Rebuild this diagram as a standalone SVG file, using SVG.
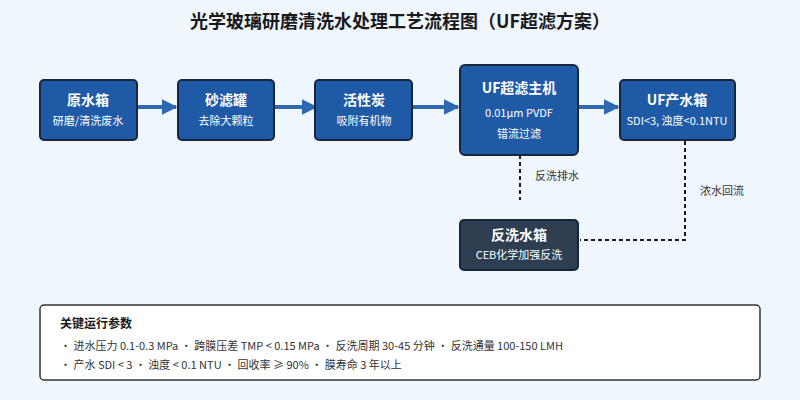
<svg xmlns="http://www.w3.org/2000/svg" width="800" height="400" viewBox="0 0 800 400">
<style>
text{font-family:"Noto Sans CJK SC","Noto Sans",sans-serif;}
.box{fill:#1f5aa6;stroke:#17263a;stroke-width:2}
.t{fill:#fff;font-size:14px;font-weight:bold;text-anchor:middle}
.s{fill:#fff;font-size:11px;text-anchor:middle}
.flow{stroke:#2d68b2;stroke-width:4;fill:none;marker-end:url(#ah)}
.dash{stroke:#1a1a1a;stroke-width:2;stroke-dasharray:4 3;fill:none}
.lbl{font-size:11px;fill:#333}
.p{font-size:11px;fill:#333}
</style>
<defs><marker id="ah" viewBox="0 0 10 10" refX="9" refY="5" markerWidth="4" markerHeight="4" orient="auto" markerUnits="strokeWidth"><path d="M0,0L10,5L0,10z" fill="#2d68b2"/></marker></defs>
<rect width="800" height="400" fill="#eff6fe"/>
<text x="400" y="28" text-anchor="middle" font-size="18" font-weight="bold" fill="#1a1a1a">光学玻璃研磨清洗水处理工艺流程图（UF超滤方案）</text>
<g id="connectors">
<path class="flow" d="M137,107H176"/>
<path class="flow" d="M274,107H316"/>
<path class="flow" d="M412,107H458"/>
<path class="flow" d="M578,107H618"/>
<path class="dash" d="M520,155V200"/>
<text class="lbl" x="535" y="180">反洗排水</text>
<path class="dash" d="M685,141V240H580"/>
<text class="lbl" x="700" y="195">浓水回流</text>
</g>
<g id="n1"><rect class="box" x="40" y="80" width="97" height="60" rx="4"/><text class="t" x="88" y="105">原水箱</text><text class="s" x="88" y="125">研磨/清洗废水</text></g>
<g id="n2"><rect class="box" x="178" y="80" width="96" height="60" rx="4"/><text class="t" x="226" y="105">砂滤罐</text><text class="s" x="226" y="125">去除大颗粒</text></g>
<g id="n3"><rect class="box" x="315" y="80" width="97" height="60" rx="4"/><text class="t" x="364" y="105">活性炭</text><text class="s" x="364" y="125">吸附有机物</text></g>
<g id="n4"><rect class="box" x="460" y="65" width="118" height="90" rx="5"/><text class="t" x="519" y="93" font-size="15">UF超滤主机</text><text class="s" x="519" y="117">0.01μm PVDF</text><text class="s" x="519" y="138">错流过滤</text></g>
<g id="n5"><rect class="box" x="620" y="80" width="115" height="60" rx="4"/><text class="t" x="677" y="105">UF产水箱</text><text class="s" x="677" y="125">SDI&lt;3, 浊度&lt;0.1NTU</text></g>
<g id="n6"><rect x="460" y="220" width="118" height="50" rx="4" fill="#2c3e50" stroke="#17263a" stroke-width="2"/><text class="t" x="519" y="240">反洗水箱</text><text class="s" x="519" y="259">CEB化学加强反洗</text></g>
<g id="params"><rect x="40" y="305" width="720" height="75" rx="4" fill="#fff" stroke="#333" stroke-width="1.5"/>
<text x="60" y="328" font-size="12" font-weight="bold" fill="#1a1a1a">关键运行参数</text>
<text class="p" x="60" y="350">・ 进水压力 0.1-0.3 MPa ・ 跨膜压差 TMP &lt; 0.15 MPa ・ 反洗周期 30-45 分钟 ・ 反洗通量 100-150 LMH</text>
<text class="p" x="60" y="369">・ 产水 SDI &lt; 3 ・ 浊度 &lt; 0.1 NTU ・ 回收率 ≥ 90% ・ 膜寿命 3 年以上</text>
</g>
</svg>
